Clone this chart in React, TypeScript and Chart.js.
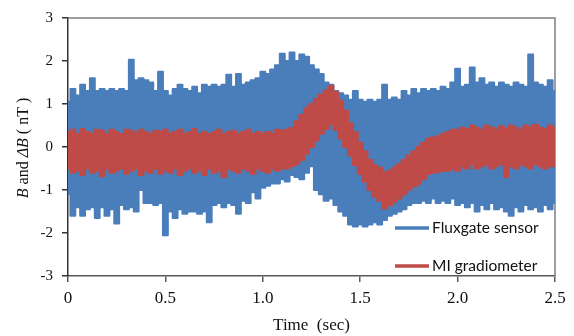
import React, { useEffect, useRef } from "react";
import { Chart, registerables } from "chart.js";

Chart.register(...registerables);

// Sample spacing of the recorded signal (seconds)
const T_STEP = 0.025;

// Fluxgate sensor: upper / lower envelope of the noisy band (nT)
const FLUX_UPPER = [
  1.05, 1.35, 1.2, 1.45, 1.3, 1.6, 1.3, 1.35, 1.3, 1.35,
  1.3, 1.35, 1.3, 2.03, 1.55, 1.6, 1.55, 1.5, 1.3, 1.75,
  1.3, 1.2, 1.35, 1.45, 1.35, 1.3, 1.4, 1.25, 1.45, 1.4,
  1.45, 1.4, 1.45, 1.68, 1.4, 1.7, 1.45, 1.5, 1.55, 1.6,
  1.75, 1.7, 1.8, 1.9, 2.17, 2.0, 2.2, 2.0, 2.15, 2.1,
  1.9, 1.8, 1.7, 1.5, 1.45, 1.3, 1.25, 1.2, 1.1, 1.3,
  1.1, 1.05, 1.1, 1.05, 1.1, 1.45, 1.1, 1.15, 1.1, 1.3,
  1.2, 1.35, 1.25, 1.35, 1.3, 1.35, 1.3, 1.4, 1.35, 1.5,
  1.82, 1.4, 1.45, 1.85, 1.5, 1.6, 1.45, 1.5, 1.4, 1.5,
  1.45, 1.4, 1.5, 1.45, 1.4, 2.15, 1.5, 1.45, 1.4, 1.55,
  1.3,
];
const FLUX_LOWER = [
  -1.1, -1.6, -1.4, -1.6, -1.45, -1.4, -1.65, -1.4, -1.6, -1.45,
  -1.78, -1.35, -1.45, -1.4, -1.5, -1.0, -1.3, -1.3, -1.35, -1.3,
  -2.05, -1.5, -1.65, -1.45, -1.55, -1.5, -1.5, -1.55, -1.5, -1.75,
  -1.35, -1.3, -1.4, -1.3, -1.35, -1.55, -1.25, -1.3, -1.05, -1.2,
  -0.95, -0.9, -0.85, -0.85, -0.75, -0.8, -0.65, -0.7, -0.75, -0.6,
  -0.45, -1.0, -1.1, -1.25, -1.2, -1.35, -1.5, -1.6, -1.8, -1.85,
  -1.8, -1.85, -1.8, -1.75, -1.8, -1.7, -1.6, -1.55, -1.5, -1.45,
  -1.35, -1.3, -1.3, -1.25, -1.3, -1.2, -1.3, -1.25, -1.3, -1.2,
  -1.35, -1.3, -1.4, -1.3, -1.5, -1.35, -1.45, -1.3, -1.45, -1.4,
  -1.5, -1.6, -1.4, -1.5, -1.35, -1.45, -1.4, -1.5, -1.35, -1.45,
  -1.3,
];

// MI gradiometer: upper / lower envelope of the noisy band (nT)
const MI_UPPER = [
  0.35, 0.4, 0.3, 0.42, 0.35, 0.3, 0.4, 0.38, 0.3, 0.4,
  0.35, 0.3, 0.4, 0.38, 0.32, 0.4, 0.35, 0.3, 0.38, 0.35,
  0.4, 0.3, 0.35, 0.4, 0.3, 0.35, 0.42, 0.3, 0.35, 0.3,
  0.35, 0.4, 0.3, 0.35, 0.38, 0.3, 0.35, 0.4, 0.3, 0.35,
  0.3, 0.35, 0.3, 0.4, 0.38, 0.4, 0.45, 0.6, 0.75, 0.9,
  1.0, 1.12, 1.22, 1.32, 1.42, 1.28, 1.08, 0.85, 0.55, 0.35,
  0.1, -0.1, -0.3, -0.42, -0.48, -0.6, -0.55, -0.48, -0.4, -0.3,
  -0.2, -0.1, 0.0, 0.1, 0.2, 0.22, 0.25, 0.3, 0.35, 0.4,
  0.4, 0.45, 0.42, 0.5, 0.45, 0.4, 0.5, 0.45, 0.4, 0.48,
  0.42, 0.5, 0.45, 0.4, 0.5, 0.45, 0.52, 0.45, 0.42, 0.5,
  0.45,
];
const MI_LOWER = [
  -0.5, -0.6, -0.55, -0.65, -0.5, -0.6, -0.55, -0.68, -0.5, -0.6,
  -0.55, -0.5, -0.62, -0.55, -0.5, -0.65, -0.55, -0.6, -0.5, -0.62,
  -0.55, -0.6, -0.5, -0.65, -0.55, -0.5, -0.6, -0.55, -0.65, -0.5,
  -0.6, -0.55, -0.7, -0.5, -0.55, -0.6, -0.5, -0.55, -0.62, -0.5,
  -0.55, -0.6, -0.5, -0.55, -0.5, -0.5, -0.45, -0.4, -0.3, -0.15,
  0.0, 0.15, 0.3, 0.42, 0.53, 0.4, 0.2, 0.0, -0.2, -0.42,
  -0.63, -0.8, -1.0, -1.15, -1.25, -1.43, -1.36, -1.28, -1.2, -1.1,
  -1.0, -0.92, -0.86, -0.75, -0.63, -0.6, -0.58, -0.55, -0.55, -0.5,
  -0.55, -0.45, -0.5, -0.4, -0.5, -0.45, -0.4, -0.5, -0.45, -0.4,
  -0.7, -0.45, -0.5, -0.4, -0.45, -0.5, -0.4, -0.45, -0.5, -0.45,
  -0.45,
];

const SERIES_NAMES = ["Fluxgate sensor", "MI gradiometer"];
const X_TITLE = "Time  (sec)";
const Y_TITLE_PARTS: [string, boolean][] = [
  ["B", true],
  [" and ", false],
  ["ΔB", true],
  [" ( nT )", false],
];

const BLUE = "#4A7EBB";
const RED = "#BE4B48";
const AXIS = "#595959";
const SERIF = "'Liberation Serif', 'Times New Roman', serif";

const TIMES = FLUX_UPPER.map((_, i) => +(i * T_STEP).toFixed(3));
const toPts = (arr: number[]) => TIMES.map((t, i) => ({ x: t, y: arr[i] }));

const decorPlugin = {
  id: "decor",
  beforeDatasetsDraw(chart: any) {
    const { ctx, chartArea: a } = chart;
    ctx.save();
    ctx.strokeStyle = "#7F7F7F";
    ctx.lineWidth = 1.5;
    ctx.beginPath();
    ctx.moveTo(a.left, a.top);
    ctx.lineTo(a.right, a.top);
    ctx.lineTo(a.right, a.bottom);
    ctx.stroke();
    ctx.restore();
  },
  afterDraw(chart: any) {
    const { ctx, chartArea: a } = chart;
    ctx.save();
    // X title
    ctx.fillStyle = "#111";
    ctx.font = `17px ${SERIF}`;
    ctx.textAlign = "center";
    ctx.textBaseline = "middle";
    ctx.fillText(X_TITLE, (a.left + a.right) / 2, 326);
    // Y title (rotated, mixed italic)
    ctx.translate(24, 148);
    ctx.rotate(-Math.PI / 2);
    ctx.textAlign = "left";
    const fontFor = (it: boolean) => `${it ? "italic " : ""}16px ${SERIF}`;
    let total = 0;
    for (const [s, it] of Y_TITLE_PARTS) {
      ctx.font = fontFor(it);
      total += ctx.measureText(s).width;
    }
    let x = -total / 2;
    for (const [s, it] of Y_TITLE_PARTS) {
      ctx.font = fontFor(it);
      ctx.fillText(s, x, 0);
      x += ctx.measureText(s).width;
    }
    ctx.restore();

    // Legend
    ctx.save();
    const items = [
      { name: SERIES_NAMES[0], color: BLUE, y: 228 },
      { name: SERIES_NAMES[1], color: RED, y: 266 },
    ];
    ctx.font = "15.5px Lato, 'Noto Sans', sans-serif";
    ctx.textBaseline = "middle";
    ctx.textAlign = "left";
    for (const it of items) {
      ctx.strokeStyle = it.color;
      ctx.lineWidth = 3.5;
      ctx.beginPath();
      ctx.moveTo(395, it.y);
      ctx.lineTo(429, it.y);
      ctx.stroke();
      ctx.fillStyle = "#111";
      ctx.fillText(it.name, 432, it.y);
    }
    ctx.restore();
  },
};

export default function App() {
  const ref = useRef<HTMLCanvasElement | null>(null);
  useEffect(() => {
    document.body.style.margin = "0";
    const band = (arr: number[], color: string, fill: any, order: number, label: string) => ({
      label,
      data: toPts(arr),
      borderColor: color,
      backgroundColor: color,
      borderWidth: 2,
      borderJoinStyle: "round" as const,
      pointRadius: 0,
      stepped: "middle" as const,
      fill,
      order,
    });
    const chart = new Chart(ref.current as HTMLCanvasElement, {
      type: "line",
      data: {
        datasets: [
          band(FLUX_LOWER, BLUE, false, 1, SERIES_NAMES[0]),
          band(FLUX_UPPER, BLUE, "-1", 1, SERIES_NAMES[0]),
          band(MI_LOWER, RED, false, 0, SERIES_NAMES[1]),
          band(MI_UPPER, RED, "-1", 0, SERIES_NAMES[1]),
        ] as any,
      },
      options: {
        animation: false,
        responsive: false,
        maintainAspectRatio: false,
        layout: { padding: { top: 16, right: 19, left: 0, bottom: 0 } },
        plugins: { legend: { display: false }, tooltip: { enabled: false } },
        scales: {
          x: {
            type: "linear",
            min: 0,
            max: 2.5,
            afterFit: (s: any) => {
              s.height = 60;
            },
            ticks: { stepSize: 0.5, color: "#111", font: { family: SERIF, size: 17 }, padding: 6, maxRotation: 0 },
            grid: { drawOnChartArea: false, drawTicks: true, tickLength: 6, color: AXIS, lineWidth: 1.5 },
            border: { color: AXIS, width: 1.5 },
          },
          y: {
            min: -3,
            max: 3,
            afterFit: (s: any) => {
              s.width = 68;
            },
            ticks: { stepSize: 1, color: "#111", font: { family: SERIF, size: 15 }, padding: 9 },
            grid: { drawOnChartArea: false, drawTicks: true, tickLength: 6, color: "#333", lineWidth: 1.5 },
            border: { color: "#333", width: 1.5 },
          },
        },
      } as any,
      plugins: [decorPlugin],
    });
    return () => chart.destroy();
  }, []);
  return (
    <div style={{ position: "fixed", left: 0, top: 0, width: 574, height: 336, background: "#fff" }}>
      <canvas ref={ref} width={574} height={336} />
    </div>
  );
}
